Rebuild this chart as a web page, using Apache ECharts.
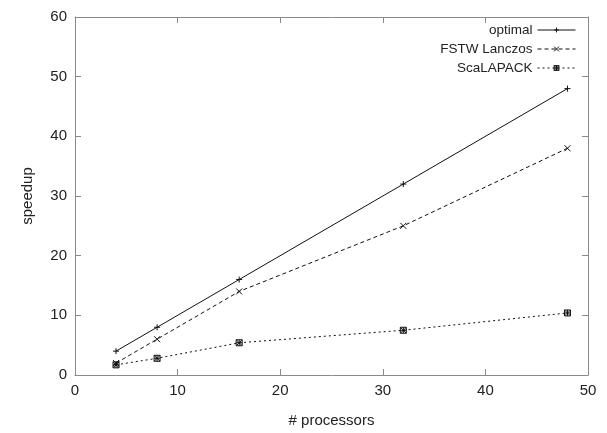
<!DOCTYPE html>
<html>
<head>
<meta charset="utf-8">
<script src="https://cdn.jsdelivr.net/npm/echarts@6/dist/echarts.min.js"></script>
<style>
  html, body { margin: 0; padding: 0; background: #fff; }
  #root { width: 607px; height: 433px; }
</style>
</head>
<body>
<div id="root"></div>
<script>
// processors on x, speedup on y
var processors = [4, 8, 16, 32, 48];
var optimal = [4, 8, 16, 32, 48];
var fstwLanczos = [2.0, 6.0, 14.0, 25.0, 38.0];
var scalapack = [1.7, 2.8, 5.4, 7.5, 10.4];
var xTicks = [0, 10, 20, 30, 40, 50];
var yTicks = [0, 10, 20, 30, 40, 50, 60];

var pairs = function (ys) {
  return processors.map(function (x, i) { return [x, ys[i]] })
}

var frame = '#8a8a8a'
var font = 'Liberation Sans, Arial, sans-serif'

var plusSym = 'path://M0,-1L0,1M-1,0L1,0'
var crossSym = 'path://M-1,-1L1,1M1,-1L-1,1'
var boxSym = 'path://M-1,-1L1,-1L1,1L-1,1ZM-1,-1L1,1M1,-1L-1,1M0,-1L0,1M-1,0L1,0'

var axisBase = function (pos, min, max, show) {
  return {
    type: 'value',
    position: pos,
    min: min,
    max: max,
    interval: 10,
    axisLine: { show: true, onZero: false, lineStyle: { color: frame, width: 1 } },
    axisTick: { show: true, inside: true, length: 6, lineStyle: { color: frame } },
    axisLabel: { show: show, color: '#222', fontSize: 15, fontFamily: font, margin: 8 },
    splitLine: { show: false }
  }
}

var xMain = axisBase('bottom', xTicks[0], xTicks[xTicks.length - 1], true)
xMain.name = '# processors'
xMain.nameLocation = 'middle'
xMain.nameGap = 38
xMain.nameTextStyle = { color: '#222', fontSize: 15, fontFamily: font }

var yMain = axisBase('left', yTicks[0], yTicks[yTicks.length - 1], true)
yMain.name = 'speedup'
yMain.nameLocation = 'middle'
yMain.nameGap = 40
yMain.nameTextStyle = { color: '#222', fontSize: 15, fontFamily: font }

var mkSeries = function (name, ys, sym, size, dash) {
  return {
    name: name,
    type: 'line',
    data: pairs(ys),
    symbol: sym,
    symbolSize: size,
    showSymbol: true,
    lineStyle: { color: '#111', width: 1, type: dash },
    itemStyle: { color: 'none', borderColor: '#111', borderWidth: 1 },
    emphasis: { disabled: true },
    z: 3
  }
}

var chart = echarts.init(document.getElementById('root'), null, { renderer: 'canvas' })
chart.setOption({
  animation: false,
  backgroundColor: '#fff',
  grid: { left: 75, right: 19, top: 17, bottom: 57 },
  legend: {
    orient: 'vertical',
    right: 26,
    top: 18,
    align: 'right',
    itemWidth: 38,
    itemHeight: 6,
    itemGap: 5,
    lineStyle: { width: 1 },
    itemStyle: { borderWidth: 1 },
    textStyle: { color: '#222', fontSize: 13.5, fontFamily: font },
    data: ['optimal', 'FSTW Lanczos', 'ScaLAPACK']
  },
  xAxis: [xMain, axisBase('top', xTicks[0], xTicks[xTicks.length - 1], false)],
  yAxis: [yMain, axisBase('right', yTicks[0], yTicks[yTicks.length - 1], false)],
  series: [
    mkSeries('optimal', optimal, plusSym, 6, 'solid'),
    mkSeries('FSTW Lanczos', fstwLanczos, crossSym, 6, [4, 3]),
    mkSeries('ScaLAPACK', scalapack, boxSym, 6, [2, 3])
  ]
})
</script>
</body>
</html>
